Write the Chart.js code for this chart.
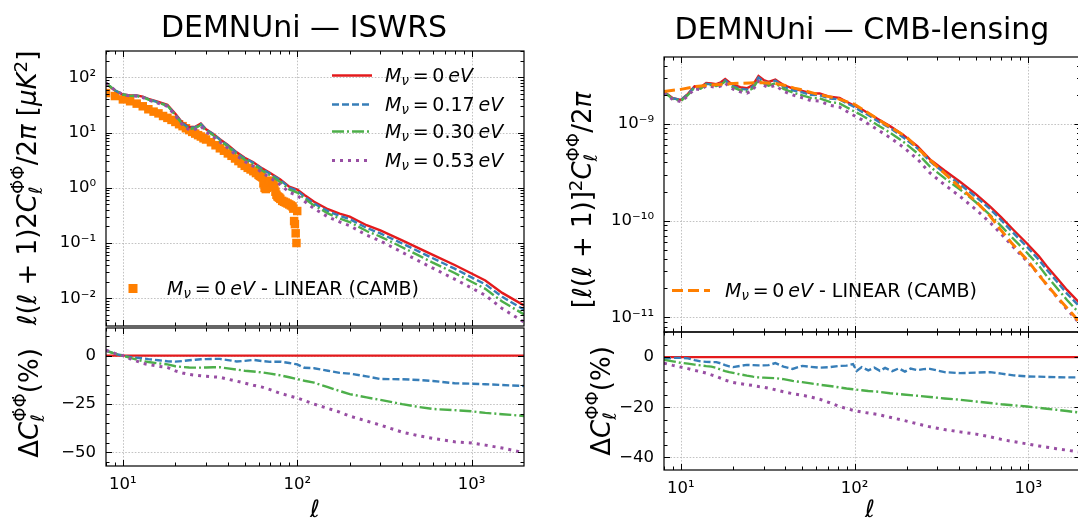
<!DOCTYPE html>
<html>
<head>
<meta charset="utf-8">
<script src="https://cdn.jsdelivr.net/npm/chart.js@4.4.0/dist/chart.umd.min.js"></script>
<style>
  html, body { margin: 0; padding: 0; background: #fff; }
  body { width: 1078px; height: 518px; overflow: hidden; position: relative; font-family: "DejaVu Sans", sans-serif; color: #000; }
  canvas { position: absolute; }
  .txt { position: absolute; white-space: nowrap; line-height: 1; }
  .title { font-size: 30px; transform: translate(-50%, -50%); }
  .ylab { font-size: 26px; transform: translate(-50%, -50%) rotate(-90deg); }
  .xlab { font-size: 24px; font-style: italic; transform: translate(-50%, -50%); }
  sub { font-size: 0.7em; vertical-align: -0.25em; line-height: 0; }
  sup { font-size: 0.7em; vertical-align: 0.5em; line-height: 0; }
  .ss { display: inline-block; font-size: 0.7em; line-height: 1; vertical-align: -0.35em; }
  .ss span { display: block; }
  .leg { position: absolute; font-size: 19px; display: flex; align-items: center; white-space: nowrap; line-height: 1; transform: translateY(-50%); }
</style>
</head>
<body>
<canvas id="isw" width="540" height="292" style="left:0px;top:40px"></canvas>
<canvas id="iswRatio" width="540" height="198" style="left:0px;top:320px"></canvas>
<canvas id="lens" width="530" height="292" style="left:560px;top:45px"></canvas>
<canvas id="lensRatio" width="530" height="194" style="left:560px;top:324px"></canvas>

<div class="txt title" style="left:304px;top:27px">DEMNUni — ISWRS</div>
<div class="txt title" style="left:862px;top:29px">DEMNUni — CMB-lensing</div>

<div class="txt ylab" style="left:27px;top:188px"><i>ℓ</i>(<i>ℓ</i> + 1)2<i>C</i><span class="ss"><span>Φ̇Φ̇</span><span><i>ℓ</i></span></span>/2<i>π</i> [<i>μK</i><sup>2</sup>]</div>
<div class="txt ylab" style="left:29px;top:403px">Δ<i>C</i><span class="ss"><span>Φ̇Φ̇</span><span><i>ℓ</i></span></span>(%)</div>
<div class="txt ylab" style="left:582px;top:200px">[<i>ℓ</i>(<i>ℓ</i> + 1)]<sup>2</sup><i>C</i><span class="ss"><span>ΦΦ</span><span><i>ℓ</i></span></span>/2<i>π</i></div>
<div class="txt ylab" style="left:601px;top:401px">Δ<i>C</i><span class="ss"><span>ΦΦ</span><span><i>ℓ</i></span></span>(%)</div>

<div class="txt xlab" style="left:315px;top:509px">ℓ</div>
<div class="txt xlab" style="left:870px;top:509px">ℓ</div>

<script>
// neutrino masses of the four runs (eV)
const massLabels = ['0', '0.17', '0.30', '0.53'];

// ISW-RS panel: multipoles and l(l+1)2C_l/2pi [muK^2]
const iswEll = [8, 9, 10, 11, 12, 13, 14, 16, 18, 20, 22, 24, 26, 28, 30, 33, 36, 40, 45, 50, 56, 63, 70, 80, 90, 100, 110, 125, 150, 175, 200, 250, 300, 400, 500, 600, 800, 1000, 1200, 1500, 2000];
const iswM000 = [77, 58, 49, 47, 47, 45, 41, 36, 32, 22, 15, 12.5, 12.8, 14.6, 11.5, 9.5, 7.6, 6.0, 4.4, 3.5, 2.9, 2.25, 1.85, 1.42, 1.05, 0.93, 0.74, 0.56, 0.41, 0.34, 0.30, 0.21, 0.17, 0.112, 0.080, 0.061, 0.040, 0.028, 0.021, 0.0125, 0.0074];
const iswM017 = [79.0, 58.6, 49, 46.7, 46.5, 44.4, 40.3, 35.1, 31.1, 21.3, 14.6, 12.2, 12.5, 14.3, 11.3, 9.34, 7.47, 5.86, 4.27, 3.41, 2.84, 2.19, 1.79, 1.38, 1.01, 0.89, 0.69, 0.52, 0.378, 0.310, 0.272, 0.188, 0.149, 0.098, 0.070, 0.053, 0.0343, 0.0239, 0.0179, 0.0106, 0.0062];
const iswM030 = [79.0, 58.6, 49, 46.4, 46.1, 43.7, 39.6, 34.6, 30.6, 20.8, 14.1, 11.7, 12.0, 13.7, 10.8, 8.93, 7.14, 5.60, 4.08, 3.23, 2.66, 2.05, 1.68, 1.28, 0.93, 0.82, 0.64, 0.48, 0.343, 0.278, 0.240, 0.165, 0.131, 0.084, 0.059, 0.044, 0.0287, 0.0199, 0.0148, 0.0087, 0.0051];
const iswM053 = [79.2, 58.7, 49, 46.2, 45.7, 43.2, 39.1, 34.0, 30.0, 20.3, 13.7, 11.3, 11.5, 13.1, 10.3, 8.46, 6.75, 5.27, 3.82, 3.00, 2.46, 1.88, 1.52, 1.14, 0.83, 0.73, 0.57, 0.42, 0.298, 0.241, 0.206, 0.139, 0.109, 0.068, 0.047, 0.035, 0.0222, 0.0153, 0.0113, 0.0065, 0.0037];
// relative difference to the massless run (%)
const iswR017 = [2.6, 1, 0, -0.7, -1.1, -1.4, -1.8, -2.4, -2.9, -3.1, -2.8, -2.4, -2.1, -1.9, -1.8, -1.7, -1.7, -2.3, -3.0, -2.7, -2.2, -2.8, -3.2, -3.1, -3.8, -4.5, -6.3, -6.5, -7.8, -8.9, -9.3, -10.7, -12.1, -12.2, -12.6, -13.1, -14.3, -14.5, -14.8, -15.2, -15.7];
const iswR030 = [2.6, 1, 0, -1.2, -2.0, -2.8, -3.3, -4.0, -4.5, -5.5, -5.9, -6.1, -6.2, -6.2, -6.1, -6.0, -6.0, -6.6, -7.2, -7.8, -8.2, -8.7, -9.3, -10.2, -11.2, -12.1, -13.0, -14.0, -16.3, -18.3, -19.9, -21.6, -22.9, -25.1, -26.6, -27.6, -28.2, -28.8, -29.6, -30.3, -31.2];
const iswR053 = [2.8, 1.2, 0, -1.6, -2.8, -4.0, -4.6, -5.5, -6.1, -7.9, -9.0, -9.7, -10.1, -10.4, -10.7, -11.0, -11.2, -12.2, -13.2, -14.2, -15.3, -16.3, -17.6, -19.5, -20.8, -21.9, -23.2, -25.1, -27.3, -29.2, -31.3, -33.8, -35.9, -39.6, -41.5, -42.8, -44.6, -45.2, -46.3, -47.8, -50.2];
// linear CAMB prediction (squares)
const cambIswEll = [8, 9, 10, 11, 12, 13, 14, 15, 16, 17, 18, 19, 20, 21, 22, 23, 24, 25, 26, 27, 28, 29, 30, 32, 34, 36, 38, 40, 42, 44, 46, 48, 50, 52, 54, 56, 58, 60, 61, 62, 63, 64, 65, 66, 67, 68, 69, 70, 71, 72, 73, 74, 75, 76, 77, 78, 79, 80, 82, 84, 86, 88, 90, 92, 94, 95, 96, 97, 98, 99, 100];
const cambIsw = [52, 46, 40, 37, 33.5, 30, 26.5, 24, 22.3, 20, 18.5, 17, 15.6, 14.2, 13.1, 12.0, 11.1, 10.3, 9.6, 9.0, 8.5, 7.9, 7.5, 6.7, 5.9, 5.2, 4.7, 4.2, 3.8, 3.4, 3.05, 2.75, 2.5, 2.3, 2.15, 2.0, 1.85, 1.72, 1.65, 1.6, 1.55, 1.2, 1.0, 0.95, 1.0, 1.1, 1.25, 1.35, 1.3, 1.25, 1.2, 1.05, 0.85, 0.75, 0.7, 0.68, 0.66, 0.63, 0.58, 0.56, 0.54, 0.52, 0.5, 0.48, 0.46, 0.42, 0.25, 0.22, 0.15, 0.1, 0.38];

// CMB-lensing panel: [l(l+1)]^2 C_l/2pi, in units of 1e-9
const lensUnit = 1e-9;
const lensEll = [8, 9, 10, 11, 12, 13, 14, 15, 16, 17, 18, 19, 20, 22, 24, 26, 28, 30, 32, 35, 39, 44, 50, 56, 63, 72, 82, 90, 98, 110, 120, 137, 160, 191, 230, 272, 330, 405, 500, 604, 700, 823, 984, 1150, 1282, 1450, 1672, 1909, 2000];
const lensM000 = [2.15, 1.85, 1.77, 2.05, 2.45, 2.40, 2.65, 2.62, 2.58, 2.70, 2.92, 2.70, 2.55, 2.40, 2.34, 2.53, 3.13, 2.85, 2.72, 2.88, 2.53, 2.34, 2.20, 2.08, 2.07, 1.91, 1.86, 1.70, 1.57, 1.42, 1.29, 1.12, 0.95, 0.77, 0.59, 0.43, 0.33, 0.253, 0.188, 0.140, 0.108, 0.080, 0.058, 0.043, 0.0335, 0.026, 0.0192, 0.0150, 0.0136];
const lensM017 = [2.135, 1.844, 1.765, 2.040, 2.421, 2.359, 2.600, 2.568, 2.528, 2.633, 2.827, 2.600, 2.448, 2.316, 2.267, 2.449, 3.027, 2.756, 2.633, 2.811, 2.434, 2.230, 2.123, 1.999, 1.983, 1.834, 1.795, 1.642, 1.526, 1.342, 1.238, 1.061, 0.910, 0.726, 0.5605, 0.410, 0.310, 0.237, 0.176, 0.1316, 0.1009, 0.0742, 0.0535, 0.0396, 0.0309, 0.0239, 0.0176, 0.0138, 0.0125];
const lensM030 = [2.126, 1.819, 1.729, 1.997, 2.377, 2.321, 2.555, 2.520, 2.469, 2.565, 2.756, 2.538, 2.389, 2.234, 2.167, 2.333, 2.876, 2.616, 2.494, 2.638, 2.307, 2.118, 1.980, 1.862, 1.842, 1.690, 1.635, 1.488, 1.369, 1.233, 1.116, 0.965, 0.813, 0.655, 0.499, 0.362, 0.2755, 0.210, 0.155, 0.1144, 0.0877, 0.0646, 0.0466, 0.0343, 0.0266, 0.0205, 0.0151, 0.0117, 0.0106];
const lensM053 = [2.098, 1.789, 1.699, 1.956, 2.320, 2.261, 2.480, 2.434, 2.381, 2.471, 2.651, 2.438, 2.292, 2.146, 2.083, 2.244, 2.764, 2.508, 2.383, 2.506, 2.181, 1.998, 1.866, 1.749, 1.722, 1.562, 1.494, 1.352, 1.237, 1.109, 1.002, 0.864, 0.722, 0.576, 0.433, 0.311, 0.235, 0.178, 0.130, 0.0955, 0.0726, 0.0530, 0.0379, 0.0278, 0.0215, 0.0165, 0.0121, 0.0093, 0.0084];
// the 0.17 eV difference is noisier between l=100 and 250, so it gets its own multipoles
const lensR017Ell = [8, 9, 10, 11, 12, 13, 14, 15, 16, 17, 18, 19, 20, 22, 24, 26, 28, 30, 32, 35, 39, 44, 50, 56, 63, 72, 82, 90, 98, 103, 110, 120, 130, 140, 150, 165, 180, 195, 210, 230, 250, 272, 330, 405, 500, 604, 700, 823, 984, 1150, 1282, 1450, 1672, 1909, 2000];
const lensR017 = [-0.7, -0.3, -0.3, -0.5, -1.2, -1.7, -1.9, -2.0, -2.0, -2.5, -3.2, -3.7, -4.0, -3.5, -3.1, -3.2, -3.3, -3.3, -3.2, -2.4, -3.8, -4.7, -3.5, -3.9, -4.2, -4.0, -3.5, -3.4, -2.8, -5.5, -4.0, -5.3, -4.2, -5.5, -4.3, -5.6, -4.5, -5.8, -4.6, -5.2, -4.8, -4.7, -6.0, -6.4, -6.2, -6.0, -6.6, -7.3, -7.7, -7.8, -7.9, -8.0, -8.1, -8.1, -8.2];
const lensR030 = [-1.1, -1.7, -2.3, -2.6, -3.0, -3.3, -3.6, -3.8, -4.3, -5.0, -5.6, -6.0, -6.3, -6.9, -7.4, -7.8, -8.1, -8.2, -8.3, -8.4, -8.8, -9.5, -10.0, -10.5, -11.0, -11.5, -12.1, -12.5, -12.8, -13.2, -13.5, -13.8, -14.4, -14.9, -15.4, -15.9, -16.5, -17.0, -17.7, -18.3, -18.8, -19.2, -19.7, -20.2, -20.6, -21.0, -21.5, -22.0, -22.2];
const lensR053 = [-2.4, -3.3, -4.0, -4.6, -5.3, -5.8, -6.4, -7.1, -7.7, -8.5, -9.2, -9.7, -10.1, -10.6, -11.0, -11.3, -11.7, -12.0, -12.4, -13.0, -13.8, -14.6, -15.2, -15.9, -16.8, -18.2, -19.7, -20.5, -21.2, -21.9, -22.3, -22.9, -24.0, -25.2, -26.6, -27.8, -28.9, -29.8, -30.7, -31.8, -32.8, -33.7, -34.6, -35.4, -35.9, -36.5, -37.1, -37.7, -37.9];
const cambLensEll = [8, 10, 12, 15, 20, 25, 30, 35, 40, 45, 50, 60, 70, 80, 100, 120, 150, 200, 250, 300, 400, 500, 600, 700, 800, 1000, 1200, 1500, 1800, 2000];
const cambLens = [2.17, 2.28, 2.43, 2.53, 2.62, 2.66, 2.67, 2.62, 2.5, 2.35, 2.25, 2.05, 1.93, 1.83, 1.6, 1.3, 1.0, 0.73, 0.49, 0.36, 0.225, 0.158, 0.113, 0.079, 0.059, 0.038, 0.025, 0.0155, 0.0108, 0.0086];

// the massless run is the reference, so its difference is zero everywhere
const refEll = [8, 2000];
const refRatio = [0, 0];

// tick values
const xMajor = [10, 100, 1000];
const iswMajor = [0.01, 0.1, 1, 10, 100];
const lensMajor = [1e-11, 1e-10, 1e-9];
const iswRatioMajor = [-50, -25, 0];
const lensRatioMajor = [-40, -20, 0];

const colors = ['#e41a1c', '#377eb8', '#4daf4a', '#984ea3'];
const dashes = [[], [7, 3], [12, 3, 2, 3], [3, 5]];
const widths = [2.4, 2.4, 2.4, 3];
const cambColor = '#ff7f00';

function logMinors(lo, hi) {
    const out = [];
    for (let e = -12; e <= 3; e++) {
        for (let m = 2; m <= 9; m++) {
            const v = m * Math.pow(10, e);
            if (v >= lo * 0.999 && v <= hi * 1.001) out.push(v);
        }
    }
    return out;
}
function linMinors(lo, hi, step) {
    const out = [];
    for (let v = Math.ceil(lo / step) * step; v <= hi; v += step) out.push(v);
    return out;
}

const supDigits = { '-': '\u207B', '0': '\u2070', '1': '\u00B9', '2': '\u00B2', '3': '\u00B3', '4': '\u2074', '5': '\u2075', '6': '\u2076', '7': '\u2077', '8': '\u2078', '9': '\u2079' };
function powLabel(v) {
    const e = Math.round(Math.log10(v));
    return '10' + String(e).split('').map(c => supDigits[c]).join('');
}
function linLabel(v) {
    return v < 0 ? '\u2212' + Math.abs(v) : String(v);
}

function pts(ell, vals, unit) {
    return ell.map((l, i) => ({ x: l, y: vals[i] * (unit || 1) }));
}
function lineSet(ell, vals, k, unit) {
    return {
        data: pts(ell, vals, unit),
        borderColor: colors[k], borderWidth: widths[k], borderDash: dashes[k],
        pointRadius: 0, fill: false, tension: 0, order: 3 - k
    };
}

// dotted grid under the data, black frame and inward ticks over it
const frame = {
    id: 'frame',
    beforeDatasetsDraw(chart, args, o) {
        const { ctx, chartArea: a, scales } = chart;
        ctx.save();
        ctx.strokeStyle = '#b4b4b4';
        ctx.lineWidth = 0.8;
        ctx.setLineDash([1.6, 1.6]);
        ctx.beginPath();
        o.xMajor.forEach(v => {
            const p = Math.round(scales.x.getPixelForValue(v)) + 0.5;
            if (p > a.left + 1 && p < a.right - 1) { ctx.moveTo(p, a.top); ctx.lineTo(p, a.bottom); }
        });
        o.yMajor.forEach(v => {
            const p = Math.round(scales.y.getPixelForValue(v)) + 0.5;
            if (p > a.top + 1 && p < a.bottom - 1) { ctx.moveTo(a.left, p); ctx.lineTo(a.right, p); }
        });
        ctx.stroke();
        ctx.restore();
    },
    afterDatasetsDraw(chart, args, o) {
        const { ctx, chartArea: a, scales } = chart;
        ctx.save();
        ctx.strokeStyle = '#000';
        ctx.lineWidth = 1;
        ctx.beginPath();
        const xTicks = (vals, len) => vals.forEach(v => {
            const p = Math.round(scales.x.getPixelForValue(v)) + 0.5;
            if (p < a.left || p > a.right) return;
            ctx.moveTo(p, a.bottom); ctx.lineTo(p, a.bottom - len);
            ctx.moveTo(p, a.top); ctx.lineTo(p, a.top + len);
        });
        const yTicks = (vals, len) => vals.forEach(v => {
            const p = Math.round(scales.y.getPixelForValue(v)) + 0.5;
            if (p < a.top || p > a.bottom) return;
            ctx.moveTo(a.left, p); ctx.lineTo(a.left + len, p);
            ctx.moveTo(a.right, p); ctx.lineTo(a.right - len, p);
        });
        xTicks(o.xMajor, 6); xTicks(o.xMinor, 3.5);
        yTicks(o.yMajor, 6); yTicks(o.yMinor, 3.5);
        ctx.stroke();
        ctx.lineWidth = 1.2;
        ctx.strokeRect(a.left, a.top, a.right - a.left, a.bottom - a.top);
        ctx.restore();
    }
};

function panel(id, o) {
    const font = { family: 'DejaVu Sans', size: 16.5 };
    return new Chart(document.getElementById(id), {
        type: 'line',
        data: { datasets: o.datasets },
        options: {
            responsive: false,
            animation: false,
            events: [],
            layout: { padding: o.pad },
            plugins: {
                legend: { display: false },
                tooltip: { enabled: false },
                frame: { xMajor: xMajor, xMinor: logMinors(8, 2000), yMajor: o.yMajor, yMinor: o.yMinor }
            },
            scales: {
                x: {
                    type: 'logarithmic', min: 8, max: 2000,
                    grid: { display: false, drawTicks: false },
                    border: { display: false },
                    afterBuildTicks: s => { s.ticks = xMajor.map(v => ({ value: v })); },
                    // fixed box, no extra label padding, so the plot area lands where it should
                    afterFit: s => { s.height = o.xHeight; s.paddingLeft = 0; s.paddingRight = 0; },
                    ticks: { display: o.xLabels, autoSkip: false, maxRotation: 0, padding: 9, color: '#000', font: font, callback: v => powLabel(v) }
                },
                y: {
                    type: o.yType, min: o.yMin, max: o.yMax,
                    grid: { display: false, drawTicks: false },
                    border: { display: false },
                    afterBuildTicks: s => { s.ticks = o.yMajor.map(v => ({ value: v })); },
                    afterFit: s => { s.width = o.yWidth; s.paddingTop = 0; s.paddingBottom = 0; },
                    ticks: { autoSkip: false, padding: 10, color: '#000', font: font, callback: o.yFmt }
                }
            }
        },
        plugins: [frame]
    });
}

// ISW-RS spectra
panel('isw', {
    datasets: [
        lineSet(iswEll, iswM000, 0), lineSet(iswEll, iswM017, 1),
        lineSet(iswEll, iswM030, 2), lineSet(iswEll, iswM053, 3),
        { data: pts(cambIswEll, cambIsw), showLine: false, pointStyle: 'rect', pointRadius: 6,
          backgroundColor: cambColor, borderColor: cambColor, borderWidth: 0, order: 5 }
    ],
    pad: { left: 0, top: 11, right: 16, bottom: 4 },
    xHeight: 0, xLabels: false, yWidth: 106,
    yType: 'logarithmic', yMin: 0.00314, yMax: 301,
    yMajor: iswMajor, yMinor: logMinors(0.00314, 301), yFmt: v => powLabel(v)
});
panel('iswRatio', {
    datasets: [
        lineSet(refEll, refRatio, 0), lineSet(iswEll, iswR017, 1),
        lineSet(iswEll, iswR030, 2), lineSet(iswEll, iswR053, 3)
    ],
    pad: { left: 0, top: 8, right: 16, bottom: 0 },
    xHeight: 52, xLabels: true, yWidth: 106,
    yType: 'linear', yMin: -57.1, yMax: 14.3,
    yMajor: iswRatioMajor, yMinor: linMinors(-57.1, 14.3, 5), yFmt: v => linLabel(v)
});

// CMB-lensing spectra
panel('lens', {
    datasets: [
        lineSet(lensEll, lensM000, 0, lensUnit), lineSet(lensEll, lensM017, 1, lensUnit),
        lineSet(lensEll, lensM030, 2, lensUnit), lineSet(lensEll, lensM053, 3, lensUnit),
        { data: pts(cambLensEll, cambLens, lensUnit), borderColor: cambColor, borderWidth: 3,
          borderDash: [11, 5], pointRadius: 0, fill: false, tension: 0, order: -1 }
    ],
    pad: { left: 0, top: 12, right: 9.5, bottom: 5 },
    xHeight: 0, xLabels: false, yWidth: 104,
    yType: 'logarithmic', yMin: 7.05e-12, yMax: 4.93e-9,
    yMajor: lensMajor, yMinor: logMinors(7.05e-12, 4.93e-9), yFmt: v => powLabel(v)
});
panel('lensRatio', {
    datasets: [
        lineSet(refEll, refRatio, 0), lineSet(lensR017Ell, lensR017, 1),
        lineSet(lensEll, lensR030, 2), lineSet(lensEll, lensR053, 3)
    ],
    pad: { left: 0, top: 8, right: 9.5, bottom: 0 },
    xHeight: 48, xLabels: true, yWidth: 104,
    yType: 'linear', yMin: -45, yMax: 10,
    yMajor: lensRatioMajor, yMinor: linMinors(-45, 10, 5), yFmt: v => linLabel(v)
});

// legends (HTML so the math labels keep their sub/superscripts)
function massText(m) {
    return '<i>M</i><sub><i>ν</i></sub>\u2009=\u2009' + m + '\u2009<i>eV</i>';
}
function legendRow(x, y, sample, sampleW, gap, html) {
    const row = document.createElement('div');
    row.className = 'leg';
    row.style.left = x + 'px';
    row.style.top = y + 'px';
    row.innerHTML = '<svg width="' + sampleW + '" height="12" style="margin-right:' + gap + 'px">' + sample + '</svg><span>' + html + '</span>';
    document.body.appendChild(row);
}
function lineSample(w, k) {
    return '<line x1="0" y1="6" x2="' + w + '" y2="6" stroke="' + colors[k] + '" stroke-width="' + widths[k] +
        '" stroke-dasharray="' + (dashes[k].length ? dashes[k].join(',') : 'none') + '"/>';
}

const legendRows = [75, 104, 131, 160];
massLabels.forEach((m, k) => legendRow(332, legendRows[k], lineSample(40, k), 40, 13, massText(m)));
legendRow(113, 288, '<rect x="15.5" y="1.5" width="9" height="9" fill="' + cambColor + '"/>', 40, 14, massText('0') + ' - LINEAR (CAMB)');
legendRow(672, 290, '<line x1="0" y1="6" x2="38" y2="6" stroke="' + cambColor + '" stroke-width="3" stroke-dasharray="11,5"/>', 38, 15, massText('0') + ' - LINEAR (CAMB)');
</script>
</body>
</html>
